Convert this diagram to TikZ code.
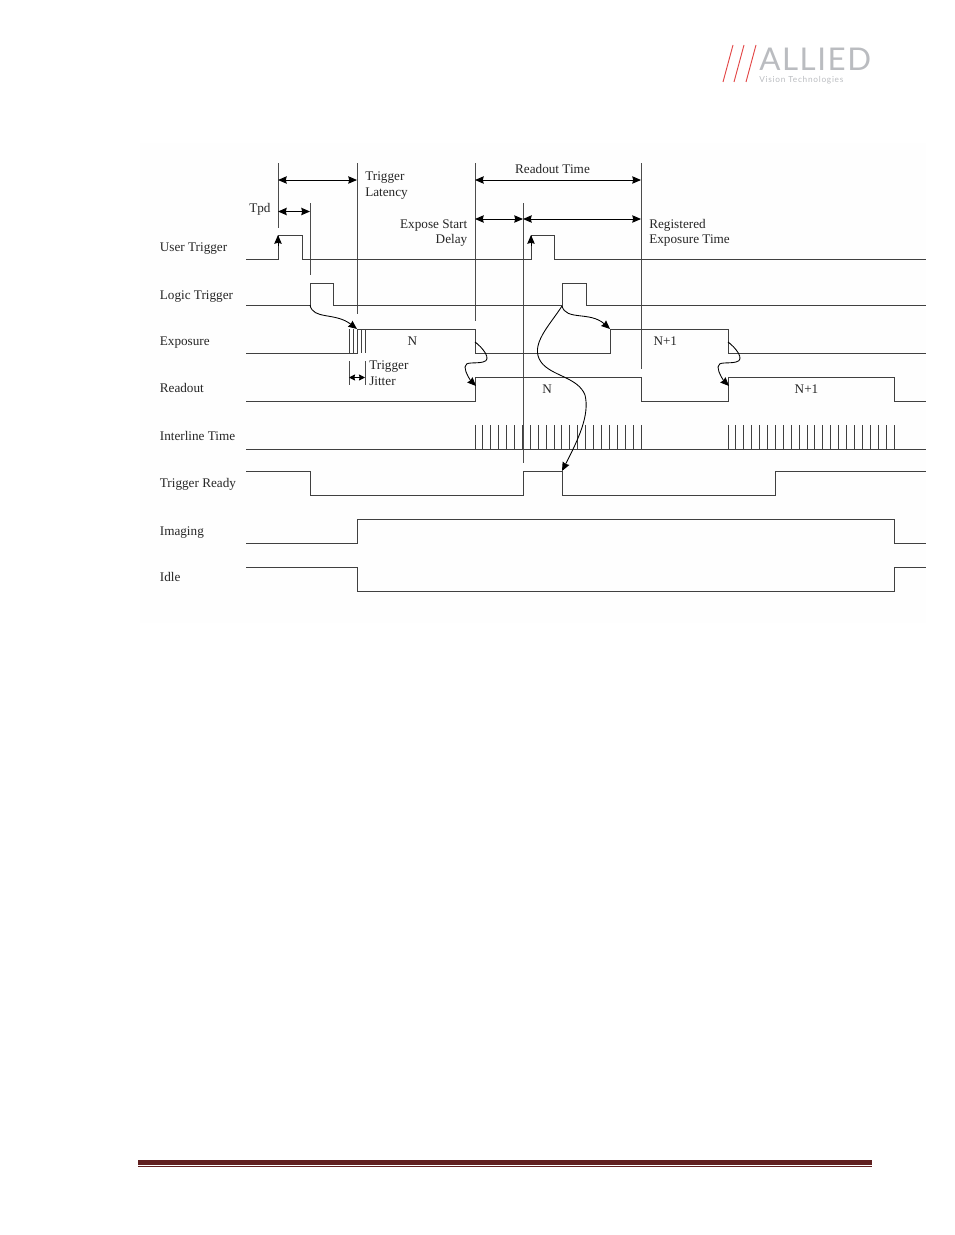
\documentclass[tikz,border=0pt]{standalone}
\usepackage{fontspec}
\setmainfont{Liberation Serif}
\newfontfamily\logofont[LetterSpace=5]{Lato}
\newfontfamily\logosmallfont[LetterSpace=9]{Lato}
\usetikzlibrary{arrows.meta}
\definecolor{logoGrey}{RGB}{186,188,192}
\definecolor{logoRed}{RGB}{226,70,70}
\definecolor{ruleRed}{RGB}{96,32,32}
\definecolor{figureWhite}{RGB}{254,254,254}
\tikzset{
  signal/.style={line width=0.7pt,black!75},
  marker/.style={line width=0.7pt,black!70},
  measure/.style={line width=0.7pt,black,{Stealth[length=6.5pt,width=5.5pt,inset=0.6pt]}-{Stealth[length=6.5pt,width=5.5pt,inset=0.6pt]}},
  shortmeasure/.style={line width=0.7pt,black,{Stealth[length=4.5pt,width=4.5pt,inset=0.5pt]}-{Stealth[length=4.5pt,width=4.5pt,inset=0.5pt]}},
  causal/.style={line width=0.65pt,black,-{Stealth[length=6.5pt,width=5.5pt,inset=0.6pt]}},
  caption/.style={inner sep=0pt,font=\fontsize{9.9}{12}\selectfont,text=black!85},
  logoslash/.style={line width=0.7pt,logoRed}
}
\begin{document}
\begin{tikzpicture}[x=0.75pt,y=-0.75pt]
    \useasboundingbox (0,0) rectangle (954,1235);
    \fill[figureWhite] (140,143) rectangle (926,623);

    % logo
    \draw[logoslash] (723,82) -- (733,45);
    \draw[logoslash] (734,82) -- (744,45);
    \draw[logoslash] (746,82) -- (756,45);
    \node[inner sep=0pt,anchor=base west,text=logoGrey,font=\fontsize{23.5}{24}\logofont] (logoName) at (759,70) {ALLIED};
    \node[inner sep=0pt,anchor=base west,text=logoGrey,font=\fontsize{6.2}{7}\logosmallfont] (logoClaim) at (759,82) {Vision Technologies};

    % time markers
    \coordinate (triggerTop) at (278,163);
    \coordinate (triggerEnd) at (278,228);
    \coordinate (logicTop) at (310,203);
    \coordinate (logicEnd) at (310,275);
    \coordinate (latencyTop) at (357,163);
    \coordinate (latencyEnd) at (357,314);
    \coordinate (readoutTop) at (475,163);
    \coordinate (readoutEnd) at (475,321);
    \coordinate (delayTop) at (523,203);
    \coordinate (delayEnd) at (523,463);
    \coordinate (registeredTop) at (641,163);
    \coordinate (registeredEnd) at (641,369);
    \coordinate (jitterTop) at (349,361);
    \coordinate (jitterEnd) at (349,385);
    \coordinate (jitterTopB) at (365,361);
    \coordinate (jitterEndB) at (365,385);

    \draw[marker] (triggerTop) -- (triggerEnd);
    \draw[marker] (logicTop) -- (logicEnd);
    \draw[marker] (latencyTop) -- (latencyEnd);
    \draw[marker] (readoutTop) -- (readoutEnd);
    \draw[marker] (delayTop) -- (delayEnd);
    \draw[marker] (registeredTop) -- (registeredEnd);
    \draw[marker] (jitterTop) -- (jitterEnd);
    \draw[marker] (jitterTopB) -- (jitterEndB);

    % measures
    \draw[measure] (278,180) coordinate (latencyFrom) -- (357,180) coordinate (latencyTo);
    \draw[measure] (278,211.5) coordinate (tpdFrom) -- (310,211.5) coordinate (tpdTo);
    \draw[measure] (475,180) coordinate (readoutFrom) -- (641,180) coordinate (readoutTo);
    \draw[measure] (475,219) coordinate (delayFrom) -- (523,219) coordinate (delayTo);
    \draw[measure] (523,219) coordinate (registeredFrom) -- (641,219) coordinate (registeredTo);
    \draw[shortmeasure] (349,377.5) coordinate (jitterFrom) -- (365,377.5) coordinate (jitterTo);

    % signals
    \draw[signal] (246,259) -| (278,235) -| (302,259) -- (531,259) |- (554,235) |- (926,259);
    \draw[signal] (246,305) -| (310,283) -| (333,305) -- (562,305) |- (586,283) |- (926,305);
    \draw[signal] (246,353) -- (357,353) |- (475,329) |- (610,353) |- (728,329) |- (926,353);
    \draw[signal] (246,401) -| (475,377) -| (641,401) -| (728,377) -| (894,401) -- (926,401);
    \draw[signal] (246,449) -- (926,449);
    \draw[signal] (246,471) -| (310,495) -| (523,471) -| (562,495) -| (775,471) -- (926,471);
    \draw[signal] (246,543) -| (357,519) -| (894,543) -- (926,543);
    \draw[signal] (246,567) -| (357,591) -| (894,567) -- (926,567);

    % exposure start jitter
    \foreach \jitterX in {349,353,361,365}
        \draw[signal] (\jitterX,329) -- (\jitterX,353);
    \draw[signal] (357,329) -- (365,329);

    % interline time
    \foreach \lineIdx in {0,...,21}
        \draw[signal] ({475+\lineIdx*7.905},425) -- ({475+\lineIdx*7.905},449);
    \foreach \lineIdx in {0,...,21}
        \draw[signal] ({728+\lineIdx*7.905},425) -- ({728+\lineIdx*7.905},449);

    % cause and effect
    \coordinate (userRiseA) at (278,246);
    \coordinate (userTopA) at (278,235);
    \coordinate (userRiseB) at (531,246);
    \coordinate (userTopB) at (531,235);
    \coordinate (logicRiseA) at (310,305);
    \coordinate (logicRiseB) at (562,306);
    \coordinate (exposeHighA) at (357,329);
    \coordinate (exposeHighB) at (610,329);
    \coordinate (exposeEndA) at (475,342);
    \coordinate (exposeEndB) at (728,342);
    \coordinate (readHighA) at (476,386);
    \coordinate (readHighB) at (729,386);
    \coordinate (readyFall) at (562,471);

    \draw[causal] (userRiseA) -- (userTopA);
    \draw[causal] (userRiseB) -- (userTopB);
    \draw[causal] (logicRiseA) .. controls (313,320) and (335,312) .. (exposeHighA);
    \draw[causal] (logicRiseB) .. controls (566,321) and (590,311) .. (exposeHighB);
    \draw[causal] (logicRiseB) .. controls (550,325) and (529,345) .. (541,362) .. controls (551,376) and (578,377) .. (585,395) .. controls (590,415) and (578,440) .. (readyFall);
    \draw[causal] (exposeEndA) .. controls (482,347) and (493,360) .. (483,362) .. controls (475,364) and (465,361) .. (465,367) .. controls (465,373) and (471,381) .. (readHighA);
    \draw[causal] (exposeEndB) .. controls (735,347) and (746,360) .. (736,362) .. controls (728,364) and (718,361) .. (718,367) .. controls (718,373) and (724,381) .. (readHighB);

    % labels
    \node[caption,anchor=base west] (userLabel) at (159.6,251) {User Trigger};
    \node[caption,anchor=base west] (logicLabel) at (159.6,299) {Logic Trigger};
    \node[caption,anchor=base west] (exposureLabel) at (159.6,345) {Exposure};
    \node[caption,anchor=base west] (readoutLabel) at (159.6,392) {Readout};
    \node[caption,anchor=base west] (interlineLabel) at (159.6,440) {Interline Time};
    \node[caption,anchor=base west] (readyLabel) at (159.6,487) {Trigger Ready};
    \node[caption,anchor=base west] (imagingLabel) at (159.6,535) {Imaging};
    \node[caption,anchor=base west] (idleLabel) at (159.6,581) {Idle};

    \node[caption,anchor=base west] (tpdLabel) at (249,212) {Tpd};
    \node[caption,anchor=base west] (latencyLabelA) at (365,180) {Trigger};
    \node[caption,anchor=base west] (latencyLabelB) at (365,196) {Latency};
    \node[caption,anchor=base east] (delayLabelA) at (467.5,228) {Expose Start};
    \node[caption,anchor=base east] (delayLabelB) at (467.5,243) {Delay};
    \node[caption,anchor=base] (readoutTimeLabel) at (552.5,173) {Readout Time};
    \node[caption,anchor=base west] (registeredLabelA) at (649,228) {Registered};
    \node[caption,anchor=base west] (registeredLabelB) at (649,243) {Exposure Time};
    \node[caption,anchor=base west] (jitterLabelA) at (369,369) {Trigger};
    \node[caption,anchor=base west] (jitterLabelB) at (369,385) {Jitter};
    \node[caption,anchor=base] (exposeN) at (412.3,345) {N};
    \node[caption,anchor=base] (exposeNext) at (665.3,345) {N+1};
    \node[caption,anchor=base] (readN) at (547.2,393) {N};
    \node[caption,anchor=base] (readNext) at (806.5,393) {N+1};

    % page rule
    \fill[ruleRed] (138,1160) rectangle (872,1165);
    \fill[ruleRed] (138,1166) rectangle (872,1167.2);
\end{tikzpicture}
\end{document}
